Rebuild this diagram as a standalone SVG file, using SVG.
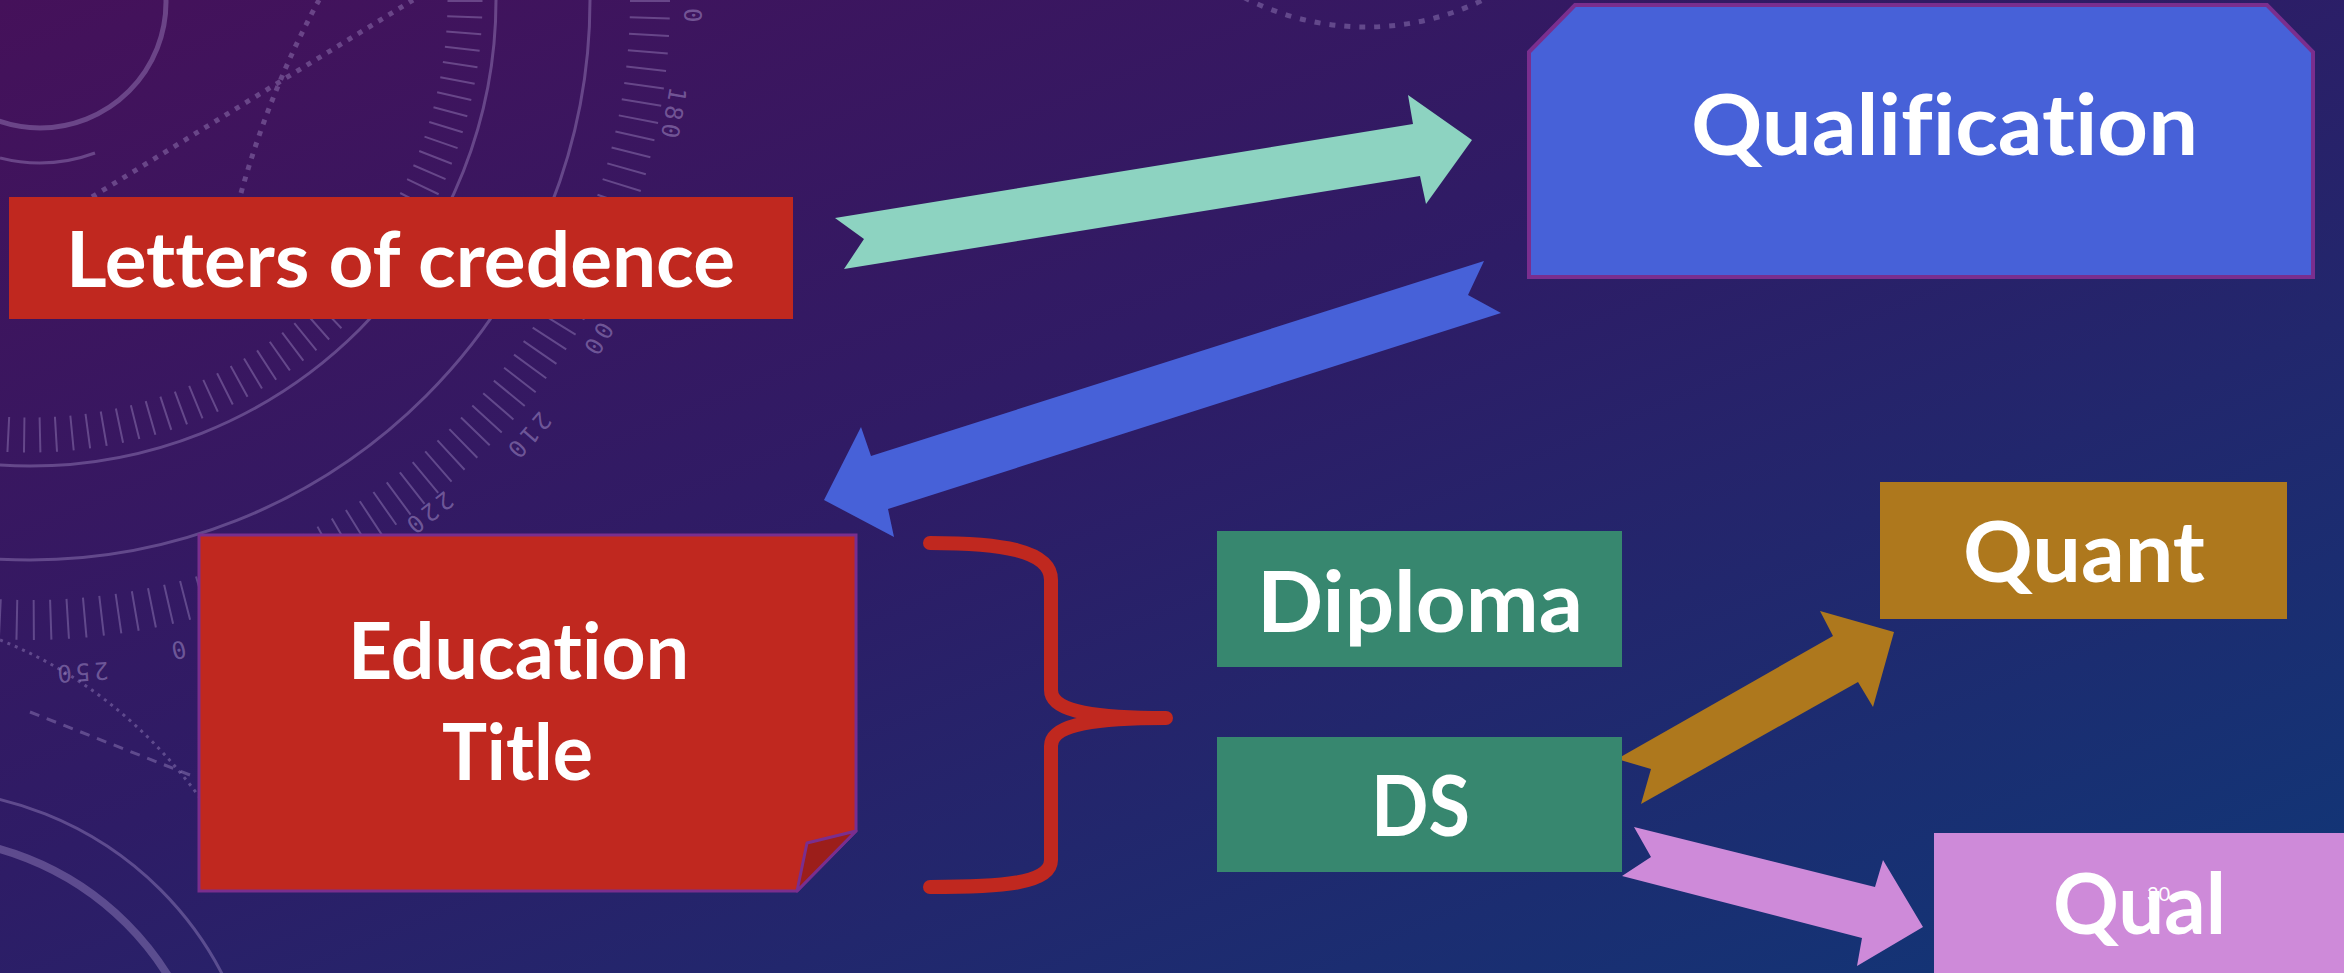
<svg xmlns="http://www.w3.org/2000/svg" width="2344" height="973" viewBox="0 0 2344 973">
<defs>
<linearGradient id="bg" x1="0" y1="0" x2="1" y2="1">
<stop offset="0" stop-color="#45115A"/>
<stop offset="0.45" stop-color="#2E1C66"/>
<stop offset="1" stop-color="#0F3878"/>
</linearGradient>
<style>
.lbl{font-family:"Lato","Open Sans","Liberation Sans",sans-serif;font-weight:700;fill:#FFFFFF;font-variant-ligatures:none;font-feature-settings:"liga" 0,"dlig" 0,"clig" 0}
.deco{fill:none;stroke:#B8A4DA;stroke-opacity:0.35}
.num{font-family:"DejaVu Sans Mono","Liberation Mono",monospace;font-size:24px;fill:#B8A4DA;fill-opacity:0.45;letter-spacing:4px}
.arrow{stroke:none}
</style>
</defs>
<rect x="0" y="0" width="2344" height="973" fill="url(#bg)"/>
<g id="background">
<circle class="deco" cx="40" cy="2" r="126" stroke-width="5"/>
<path class="deco" d="M0,158 A161,161 0 0 0 95,153" stroke-width="3"/>
<circle class="deco" cx="30" cy="0" r="466" stroke-width="3"/>
<circle class="deco" cx="30" cy="0" r="560" stroke-width="3"/>
<circle class="deco" cx="30" cy="0" r="620" stroke-width="40" stroke-dasharray="2 15"/>
<circle class="deco" cx="30" cy="0" r="435" stroke-width="35" stroke-dasharray="2 14" stroke-opacity="0.25"/>
<line class="deco" x1="92" y1="197" x2="413" y2="0" stroke-width="5" stroke-dasharray="5 7"/>
<path class="deco" d="M241,193 Q270,90 319,0" stroke-width="5" stroke-dasharray="5 7"/>
<circle class="deco" cx="1366" cy="-240" r="267" stroke-width="5" stroke-dasharray="6 9"/>
<circle class="deco" cx="-80" cy="1130" r="292" stroke-width="8"/>
<circle class="deco" cx="-80" cy="1130" r="340" stroke-width="3"/>
<path class="deco" d="M190,775 L30,712" stroke-width="3" stroke-dasharray="10 8"/>
<path class="deco" d="M0,640 Q150,700 240,860" stroke-width="3" stroke-dasharray="3 5"/>
<text class="num" transform="translate(684,8) rotate(90)">0</text>
<text class="num" transform="translate(670,86) rotate(100)">180</text>
<text class="num" transform="translate(600,320) rotate(121)">00</text>
<text class="num" transform="translate(540,410) rotate(131)">210</text>
<text class="num" transform="translate(445,490) rotate(142)">220</text>
<text class="num" transform="translate(108,662) rotate(176)">250</text>
<text class="num" transform="translate(184,640) rotate(167)">0</text>
</g>
<g id="connectors">
<polygon class="arrow" fill="#8DD3C1" points="835,218 1413,124 1408,95 1472,140 1426,204 1420,176 844,269 864,239"/>
<polygon class="arrow" fill="#4761D8" points="1484,261 871,456 861,427 824,500 894,537 888,509 1501,313 1468,295"/>
<polygon class="arrow" fill="#AE781D" points="1617,759 1833,636 1820,611 1894,632 1873,707 1858,682 1641,804 1651,769"/>
<polygon class="arrow" fill="#CE8AD9" points="1634,827 1875,887 1883,860 1923,927 1857,966 1862,938 1622,876 1651,857"/>
<path id="brace" d="M930,543 C1000,543 1051,550 1051,580 L1051,690 C1051,708 1080,718 1166,718 C1080,718 1051,728 1051,746 L1051,860 C1051,884 1000,887 930,887" fill="none" stroke="#C0281F" stroke-width="14" stroke-linecap="round" stroke-linejoin="round"/>
</g>
<g id="letters">
<rect x="9" y="197" width="784" height="122" fill="#C0281F"/>
<text class="lbl" x="66" y="287" font-size="76" textLength="669" lengthAdjust="spacingAndGlyphs">Letters of credence</text>
</g>
<g id="qualification">
<path d="M1529,52 L1575,5 H2267 L2313,52 V277 H1529 Z" fill="#4761D8" stroke="#7A2E8E" stroke-width="4"/>
<text class="lbl" x="1691" y="155" font-size="84" textLength="507" lengthAdjust="spacingAndGlyphs">Qualification</text>
</g>
<g id="education">
<path d="M199,535 H856 V831 L797,891 H199 Z" fill="#C0281F" stroke="#7A2E8E" stroke-width="3"/>
<path d="M856,831 L807,843 L797,891 Z" fill="#9C1E1A" stroke="#7A2E8E" stroke-width="3" stroke-linejoin="round"/>
<text class="lbl" x="348" y="679" font-size="78" textLength="341" lengthAdjust="spacingAndGlyphs">Education</text>
<text class="lbl" x="442" y="780" font-size="78" textLength="151" lengthAdjust="spacingAndGlyphs">Title</text>
</g>
<g id="diploma">
<rect x="1217" y="531" width="405" height="136" fill="#37876F"/>
<text class="lbl" x="1257" y="632" font-size="85" textLength="326" lengthAdjust="spacingAndGlyphs">Diploma</text>
</g>
<g id="ds">
<rect x="1217" y="737" width="405" height="135" fill="#37876F"/>
<text class="lbl" x="1371" y="836" font-size="85" textLength="99" lengthAdjust="spacingAndGlyphs">DS</text>
</g>
<g id="quant">
<rect x="1880" y="482" width="407" height="137" fill="#AE781D"/>
<text class="lbl" x="1963" y="582" font-size="85" textLength="242" lengthAdjust="spacingAndGlyphs">Quant</text>
</g>
<g id="qual">
<rect x="1934" y="833" width="410" height="140" fill="#CE8AD9"/>
<text class="lbl" x="2053" y="934" font-size="84" textLength="173" lengthAdjust="spacingAndGlyphs">Qual</text>
</g>
<text id="slide-number" x="2147" y="901" font-family="Lato, 'Liberation Sans', sans-serif" font-size="20" fill="#FFFFFF">30</text>
</svg>
